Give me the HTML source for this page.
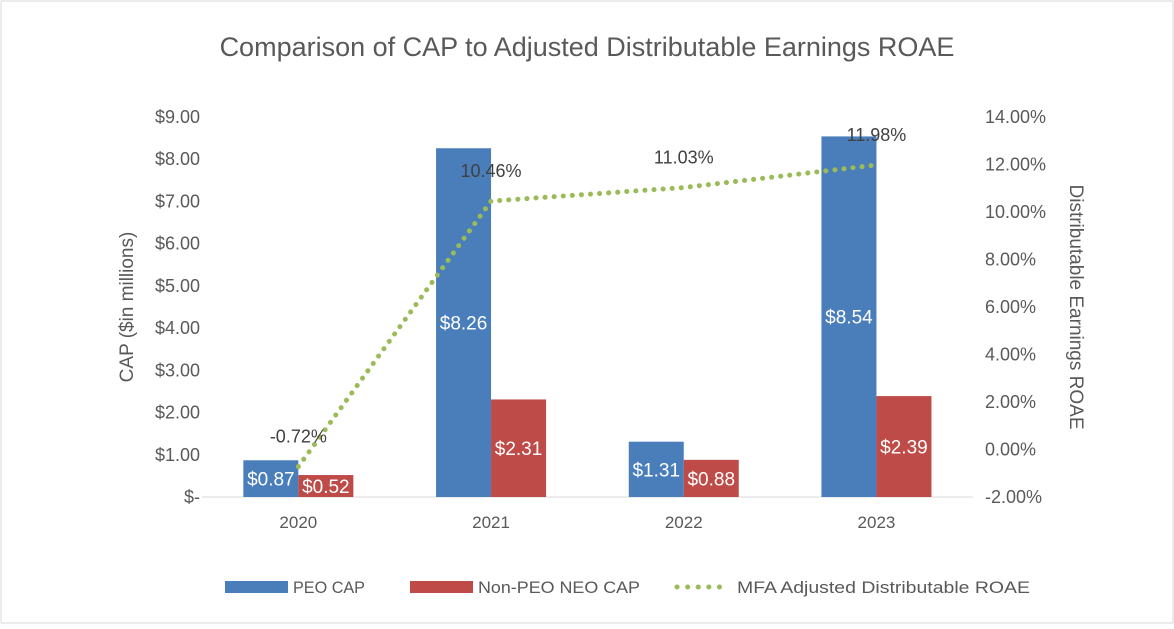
<!DOCTYPE html>
<html><head><meta charset="utf-8"><style>
body{margin:0;background:#fff;}
svg text{font-family:"Liberation Sans",sans-serif;}
</style></head><body>
<svg width="1174" height="624">
<rect x="1" y="1" width="1172" height="622" fill="#fff" stroke="#d9d9d9"/>
<text x="587" y="56" text-anchor="middle" font-size="27" fill="#595959">Comparison of CAP to Adjusted Distributable Earnings ROAE</text>
<g id="g"></g>
<text transform="translate(133,307) rotate(-90)" text-anchor="middle" font-size="19" fill="#595959">CAP ($in millions)</text>
<text transform="translate(1070,307) rotate(90)" text-anchor="middle" font-size="19" fill="#595959">Distributable Earnings ROAE</text>
<g>
<rect x="225" y="581" width="63" height="12" fill="#4a7ebb"/>
<text x="293" y="593" font-size="17" fill="#595959" textLength="72" lengthAdjust="spacingAndGlyphs">PEO CAP</text>
<rect x="410" y="581" width="63" height="12" fill="#be4b48"/>
<text x="478" y="593" font-size="17" fill="#595959" textLength="162" lengthAdjust="spacingAndGlyphs">Non-PEO NEO CAP</text>
<line x1="677" y1="587" x2="730" y2="587" stroke="#9bbb59" stroke-width="5" stroke-dasharray="0.1,10.5" stroke-linecap="round"/>
<text x="737" y="593" font-size="17" fill="#595959" textLength="293" lengthAdjust="spacingAndGlyphs">MFA Adjusted Distributable ROAE</text>
</g>
</svg>
<script>
const categories=["2020","2021","2022","2023"];
const peoCap=[0.87,8.26,1.31,8.54];
const nonPeoCap=[0.52,2.31,0.88,2.39];
const roae=[-0.72,10.46,11.03,11.98];
const leftTicks=[0,1,2,3,4,5,6,7,8,9];
const rightTicks=[-2,0,2,4,6,8,10,12,14];
const NS="http://www.w3.org/2000/svg";
const g=document.getElementById('g');
const plotTop=117,bot=497,x0=202,step=192.7;
const yL=v=>bot-(v/9)*(bot-plotTop);
const yR=v=>bot-((v+2)/16)*(bot-plotTop);
const xC=i=>x0+step*(i+0.5);
function mk(t,a){const e=document.createElementNS(NS,t);for(const k in a)e.setAttribute(k,a[k]);g.appendChild(e);return e;}
leftTicks.forEach(v=>{const t=mk('text',{x:200,y:yL(v)+6,'text-anchor':'end','font-size':18,fill:'#595959'});t.textContent=v===0?'$-':'$'+v.toFixed(2);

});
rightTicks.forEach(v=>{const t=mk('text',{x:985,y:yR(v)+6,'font-size':18,fill:'#595959'});t.textContent=v.toFixed(2)+'%';

});
const ax=mk('line',{x1:x0,x2:x0+step*4,y1:bot,y2:bot,stroke:'#d9d9d9'});


const bw=55;
categories.forEach((c,i)=>{
 const t=mk('text',{x:xC(i),y:528,'text-anchor':'middle','font-size':17,fill:'#595959'});t.textContent=c;
 
 
 const b1=mk('rect',{x:xC(i)-bw,y:yL(peoCap[i]),width:bw,height:bot-yL(peoCap[i]),fill:'#4a7ebb'});
 
 
 const b2=mk('rect',{x:xC(i),y:yL(nonPeoCap[i]),width:bw,height:bot-yL(nonPeoCap[i]),fill:'#be4b48'});
 
 
 const l1=mk('text',{x:xC(i)-bw/2,y:(yL(peoCap[i])+bot)/2+7,'text-anchor':'middle','font-size':19,fill:'#fff'});l1.textContent='$'+peoCap[i].toFixed(2);
 
 
 const l2=mk('text',{x:xC(i)+bw/2,y:(yL(nonPeoCap[i])+bot)/2+7,'text-anchor':'middle','font-size':19,fill:'#fff'});l2.textContent='$'+nonPeoCap[i].toFixed(2);
 
 
});
const pl=mk('polyline',{points:roae.map((v,i)=>xC(i)+','+yR(v)).join(' '),fill:'none',stroke:'#9bbb59','stroke-width':5,'stroke-dasharray':'0.1,9','stroke-linecap':'round'});


roae.forEach((v,i)=>{const t=mk('text',{x:xC(i),y:yR(v)-24,'text-anchor':'middle','font-size':18,fill:'#404040'});t.textContent=v.toFixed(2)+'%';

});
</script>
</body></html>
